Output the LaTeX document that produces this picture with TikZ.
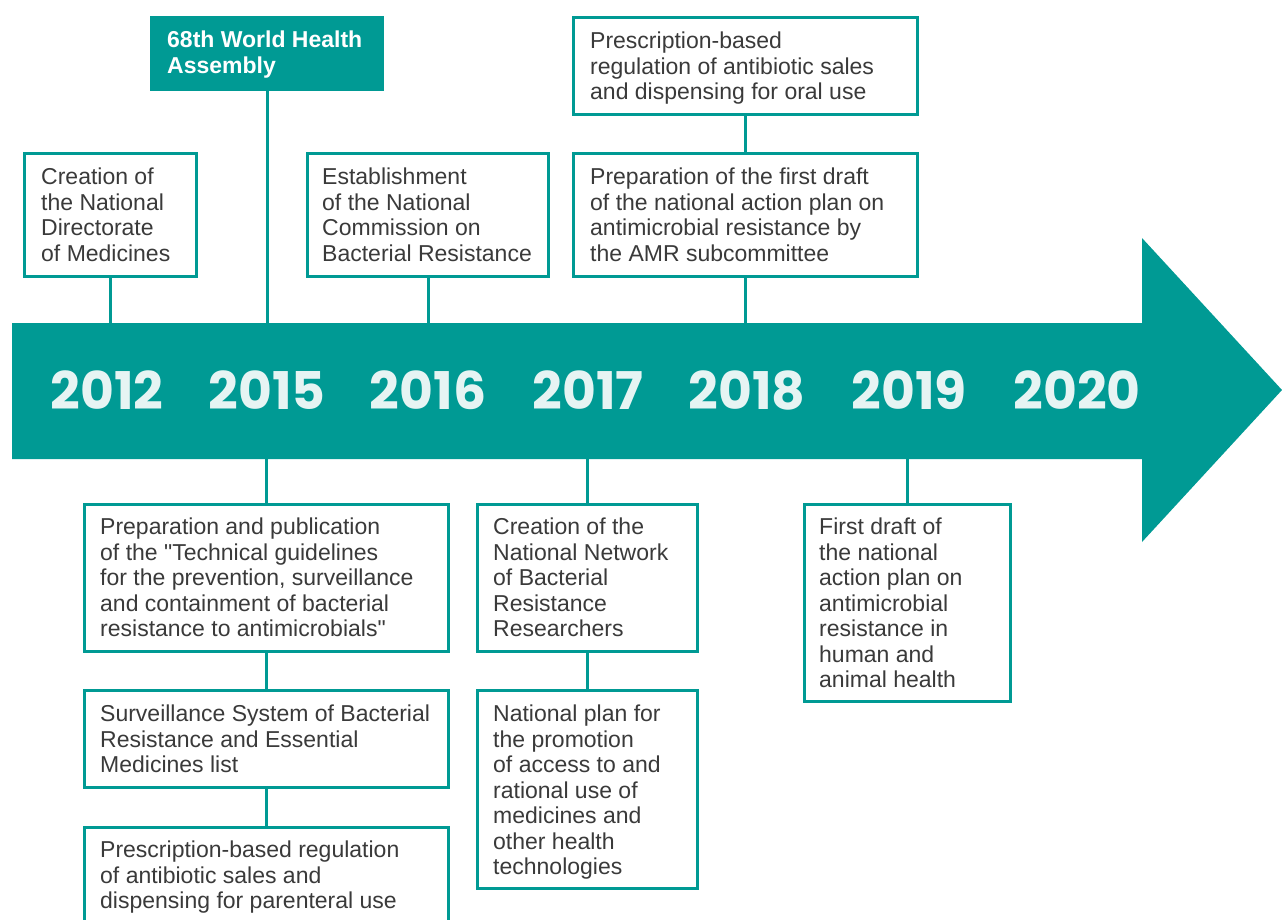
\documentclass[tikz,border=0pt]{standalone}
\usepackage{fontspec}
\setmainfont{Liberation Sans}
\newfontfamily\yearfont{Poppins}
\definecolor{tealc}{HTML}{009A94}
\definecolor{yearc}{HTML}{E6F4F3}
\definecolor{txtc}{HTML}{3A3A3A}
\tikzset{
  evbox/.style={draw=tealc, line width=3pt, fill=white, rectangle, inner sep=0pt, anchor=north west},
  headbox/.style={draw=tealc, line width=3pt, fill=tealc, rectangle, inner sep=0pt, anchor=north west},
  evtext/.style={font=\fontsize{23}{25.5}\selectfont, text=txtc, align=left, anchor=north west, inner sep=0pt},
  headtext/.style={font=\bfseries\fontsize{23}{25.5}\selectfont, text=white, align=left, anchor=north west, inner sep=0pt},
  conn/.style={draw=tealc, line width=3pt},
  yearlbl/.style={font=\yearfont\bfseries\fontsize{52}{52}\selectfont, text=yearc, inner sep=0pt}
}
\begin{document}
\begin{tikzpicture}[x=1pt,y=-1pt]
\useasboundingbox (0,0) rectangle (1282,919);

% boxes above the arrow
\node[headbox, minimum width=231, minimum height=72] (wha) at (150,16) {};
\node[headtext] (what) at (167,31) {68th World Health\\Assembly};

\node[evbox, minimum width=172, minimum height=123] (ndm) at (23,152) {};
\node[evtext] (ndmt) at (41,168) {Creation of\\the National\\Directorate\\of Medicines};

\node[evbox, minimum width=241, minimum height=123] (ncbr) at (306,152) {};
\node[evtext] (ncbrt) at (322,168) {Establishment\\of the National\\Commission on\\Bacterial Resistance};

\node[evbox, minimum width=344, minimum height=97] (oral) at (572,16) {};
\node[evtext] (oralt) at (590,32) {Prescription-based\\regulation of antibiotic sales\\and dispensing for oral use};

\node[evbox, minimum width=344, minimum height=123] (dr18) at (572,152) {};
\node[evtext] (dr18t) at (590,168) {Preparation of the first draft\\of the national action plan on\\antimicrobial resistance by\\the AMR subcommittee};

% boxes below the arrow
\node[evbox, minimum width=364, minimum height=147] (tech) at (83,503) {};
\node[evtext] (techt) at (100,518) {Preparation and publication\\of the \textquotedbl Technical guidelines\\for the prevention, surveillance\\and containment of bacterial\\resistance to antimicrobials\textquotedbl};

\node[evbox, minimum width=364, minimum height=97] (surv) at (83,689) {};
\node[evtext] (survt) at (100,705) {Surveillance System of Bacterial\\Resistance and Essential\\Medicines list};

\node[evbox, minimum width=364, minimum height=110] (par) at (83,826) {};
\node[evtext] (part) at (100,841) {Prescription-based regulation\\of antibiotic sales and\\dispensing for parenteral use};

\node[evbox, minimum width=220, minimum height=147] (nnb) at (476,503) {};
\node[evtext] (nnbt) at (493,518) {Creation of the\\National Network\\of Bacterial\\Resistance\\Researchers};

\node[evbox, minimum width=220, minimum height=198] (npl) at (476,689) {};
\node[evtext] (nplt) at (493,705) {National plan for\\the promotion\\of access to and\\rational use of\\medicines and\\other health\\technologies};

\node[evbox, minimum width=206, minimum height=197] (dr19) at (803,503) {};
\node[evtext] (dr19t) at (819,518) {First draft of\\the national\\action plan on\\antimicrobial\\resistance in\\human and\\animal health};

% arrow anchor coordinates
\coordinate (atop) at (0,330);
\coordinate (abot) at (0,452);

% connectors
\draw[conn] (wha.south) -- (wha.south |- atop);
\draw[conn] (ndm.south) -- (ndm.south |- atop);
\draw[conn] (ncbr.south) -- (ncbr.south |- atop);
\draw[conn] (oral.south) -- (dr18.north);
\draw[conn] (dr18.south) -- (dr18.south |- atop);
\draw[conn] (tech.north |- abot) -- (tech.north);
\draw[conn] (tech.south) -- (surv.north);
\draw[conn] (surv.south) -- (par.north);
\draw[conn] (nnb.north |- abot) -- (nnb.north);
\draw[conn] (nnb.south) -- (npl.north);
\draw[conn] (dr19.north |- abot) -- (dr19.north);

% timeline arrow
\fill[tealc] (12,323) -- (1142,323) -- (1142,238) -- (1282,390) -- (1142,542) -- (1142,459) -- (12,459) -- cycle;

% years
\node[yearlbl] (y12) at (107,390) {2012};
\node[yearlbl] (y15) at (267,390) {2015};
\node[yearlbl] (y16) at (428,390) {2016};
\node[yearlbl] (y17) at (588,390) {2017};
\node[yearlbl] (y18) at (747,390) {2018};
\node[yearlbl] (y19) at (909,390) {2019};
\node[yearlbl] (y20) at (1077,390) {2020};
\end{tikzpicture}
\end{document}
